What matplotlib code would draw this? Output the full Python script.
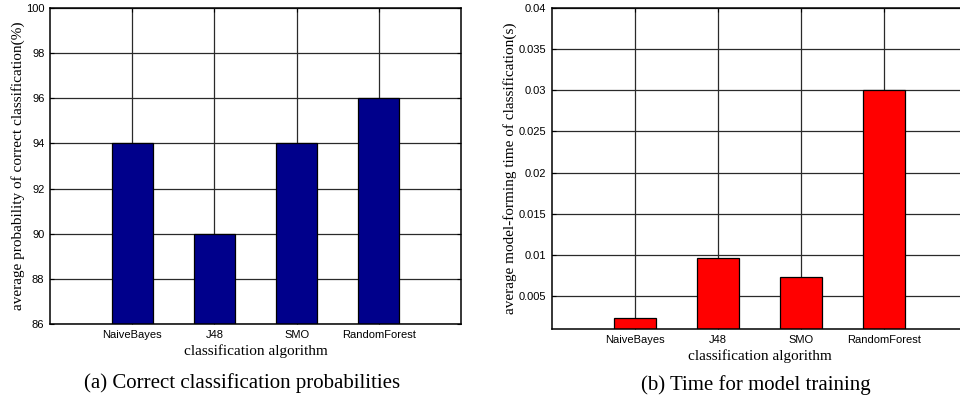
import matplotlib
matplotlib.use("Agg")
import matplotlib.pyplot as plt

# Klassifikationsverfahren und Messwerte
algorithmen = ["NaiveBayes", "J48", "SMO", "RandomForest"]
genauigkeit = [94, 90, 94, 96]                      # mittlere Trefferquote (%)
trainingszeit = [0.0023, 0.0096, 0.0073, 0.030]     # mittlere Trainingszeit (s)

ytick_a = [86, 88, 90, 92, 94, 96, 98, 100]
ytick_b = [0.005, 0.01, 0.015, 0.02, 0.025, 0.03, 0.035, 0.04]
ytick_b_labels = ["0.005", "0.01", "0.015", "0.02", "0.025", "0.03", "0.035", "0.04"]

SANS = "Liberation Sans"
SERIF = "Liberation Serif"

W, H = 960, 401
fig = plt.figure(figsize=(W / 100, H / 100), dpi=100)


def px_axes(x0, y0, x1, y1):
    # Achsen in Pixelkoordinaten (oben links = 0,0)
    return fig.add_axes([x0 / W, (H - y1) / H, (x1 - x0) / W, (y1 - y0) / H])


def zeichne_balken(ax, werte, farbe, ylim, yticks, ylabels, ylabel):
    pos = list(range(1, len(werte) + 1))
    ax.set_axisbelow(True)
    ax.grid(True, color="#2a2a2a", linewidth=0.9)
    ax.bar(pos, werte, width=0.5, color=farbe, edgecolor="black", linewidth=0.9)
    ax.set_xlim(0, 5)
    ax.set_ylim(*ylim)
    ax.set_xticks(pos)
    ax.set_xticklabels(algorithmen, fontfamily=SANS, fontsize=8)
    ax.set_yticks(yticks)
    ax.set_yticklabels(ylabels, fontfamily=SANS, fontsize=8)
    ax.tick_params(direction="in", length=3, width=0.8, top=True, right=True, pad=4)
    for s in ax.spines.values():
        s.set_linewidth(1.1)
    ax.set_xlabel("classification algorithm", fontfamily=SERIF, fontsize=11, labelpad=3)
    ax.set_ylabel(ylabel, fontfamily=SERIF, fontsize=11, labelpad=1)


# (a) Trefferquote
ax1 = px_axes(50, 8, 461, 324)
zeichne_balken(ax1, genauigkeit, "#00008B", (86, 100), ytick_a,
               [str(t) for t in ytick_a],
               "average probability of correct classification(%)")

# (b) Trainingszeit
ax2 = px_axes(552, 8, 967, 329)
zeichne_balken(ax2, trainingszeit, "#FF0000", (0.001, 0.04), ytick_b, ytick_b_labels,
               "average model-forming time of classification(s)")

fig.text(242 / W, 1 - 383 / H, "(a) Correct classification probabilities",
         ha="center", va="center", fontfamily=SERIF, fontsize=15)
fig.text(756 / W, 1 - 385 / H, "(b) Time for model training",
         ha="center", va="center", fontfamily=SERIF, fontsize=15)

fig.savefig("out.png", dpi=100, facecolor="white")
